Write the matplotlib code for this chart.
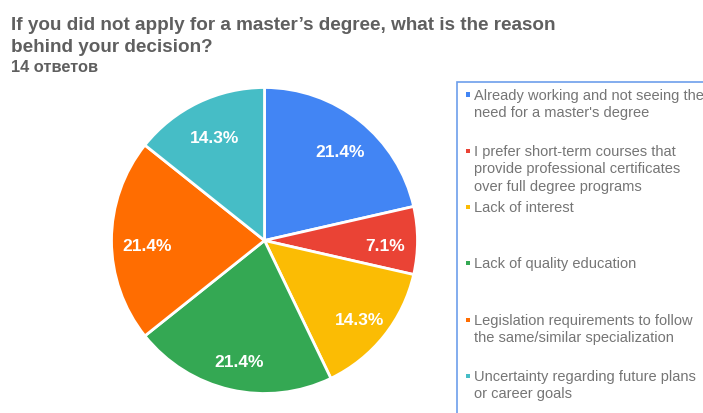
import matplotlib
matplotlib.use("Agg")
import matplotlib.pyplot as plt
from matplotlib.patches import Rectangle

title_lines = ["If you did not apply for a master\u2019s degree, what is the reason",
               "behind your decision?"]
subtitle = "14 ответов"
categories = [
    "Already working and not seeing the\nneed for a master's degree",
    "I prefer short-term courses that\nprovide professional certificates\nover full degree programs",
    "Lack of interest",
    "Lack of quality education",
    "Legislation requirements to follow\nthe same/similar specialization",
    "Uncertainty regarding future plans\nor career goals",
]
counts = [3, 1, 2, 3, 3, 2]
colors = ["#4285F4", "#EA4335", "#FBBC04", "#34A853", "#FF6D01", "#46BDC6"]

plt.rcParams['font.family'] = ['Liberation Sans', 'DejaVu Sans']

W, H = 703, 414
fig = plt.figure(figsize=(W / 100, H / 100), dpi=100)

# pie axes
cx, cy, r = 264.5, 241.5, 153
ax = fig.add_axes([(cx - r) / W, 1 - (cy + r) / H, 2 * r / W, 2 * r / H])
wedges, texts, autotexts = ax.pie(
    counts, colors=colors, startangle=90, counterclock=False,
    autopct=lambda p: f"{p:.1f}%", pctdistance=0.78,
    wedgeprops=dict(edgecolor="white", linewidth=2),
    textprops=dict(color="white", fontsize=12.5, fontweight="bold"),
)
for t in autotexts:
    x, y = t.get_position()
    t.set_position((x + 0.01, y - 0.03))
ax.set_aspect("equal")
ax.set_xlim(-1, 1)
ax.set_ylim(-1, 1)

# title
title_color = "#5f5f5f"
for line, base in zip(title_lines, [30, 52]):
    fig.text(11 / W, 1 - base / H, line, fontsize=13.6, fontweight="bold",
             color=title_color, va="baseline", ha="left")
fig.text(11 / W, 1 - 72 / H, subtitle, fontsize=11.8, fontweight="bold",
         color=title_color, va="baseline", ha="left")

# legend box
fig.patches.append(Rectangle((457 / W, -0.05), 0.5, 1 - 83 / H + 0.05,
                             transform=fig.transFigure, fill=False,
                             edgecolor="#6d9eeb", linewidth=1.2))
entry_base = [100, 156, 212, 268, 325, 381]
line_gap = 17.5
for lab, col, b in zip(categories, colors, entry_base):
    fig.patches.append(Rectangle((465.5 / W, 1 - (b - 2) / H), 4.5 / W, 4.5 / H,
                                 transform=fig.transFigure, facecolor=col,
                                 edgecolor="none"))
    for i, ln in enumerate(lab.split("\n")):
        fig.text(474 / W, 1 - (b + i * line_gap) / H, ln, fontsize=10.5,
                 color="#757575", va="baseline", ha="left")

fig.savefig("out.png", dpi=100)
